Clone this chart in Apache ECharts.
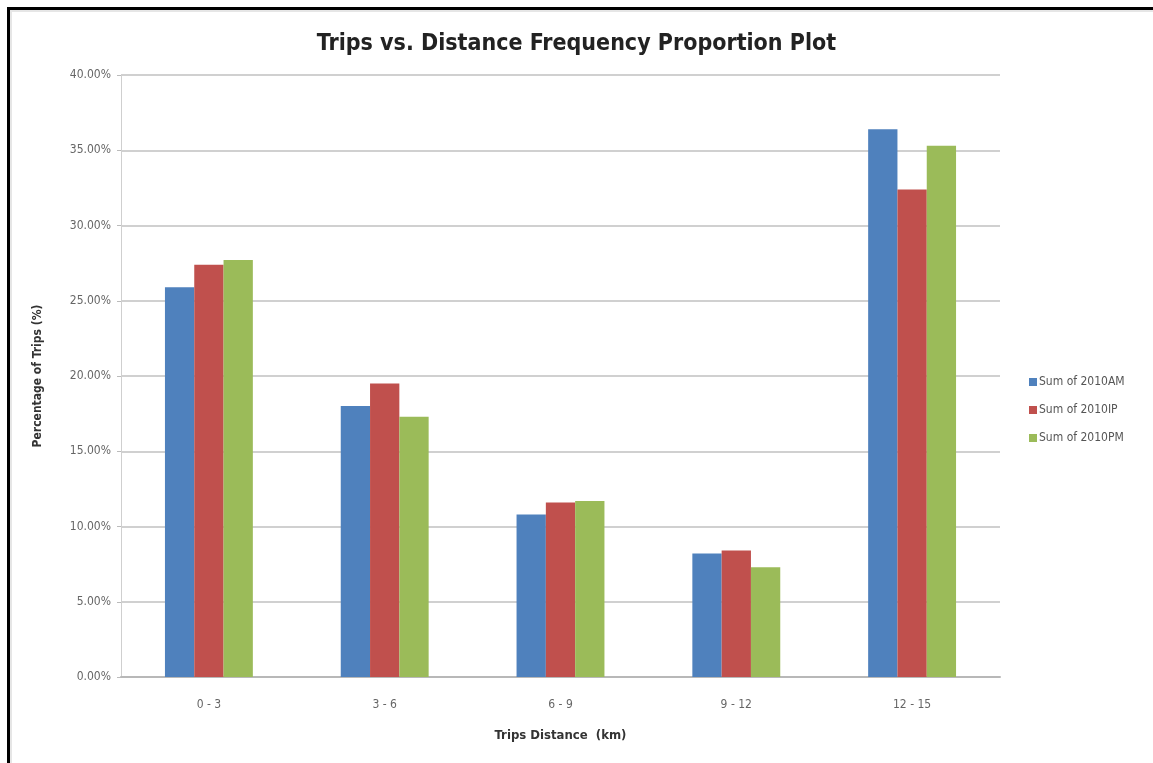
<!DOCTYPE html>
<html>
<head>
<meta charset="utf-8">
<title>Trips vs. Distance Frequency Proportion Plot</title>
<script src="https://cdn.jsdelivr.net/npm/echarts@6/dist/echarts.min.js"></script>
<style>
  html, body { margin: 0; padding: 0; background: #fff; }
  #frame {
    position: absolute; left: 7px; top: 7px; width: 1160px; height: 753px;
    border-top: 3px solid #000; border-left: 3px solid #000;
    box-shadow: inset 2px 2px 0 #e6e6e6;
  }
  #tripsChart { position: absolute; left: 0; top: 0; width: 1153px; height: 763px; }
</style>
</head>
<body>
<div id="frame"></div>
<div id="tripsChart"></div>

<script type="text/javascript">

var distanceBands = ['0 - 3', '3 - 6', '6 - 9', '9 - 12', '12 - 15'];

// percentage of trips per distance band
var sum2010AM = [25.9, 18.0, 10.8, 8.2, 36.4];
var sum2010IP = [27.4, 19.5, 11.6, 8.4, 32.4];
var sum2010PM = [27.7, 17.3, 11.7, 7.3, 35.3];

var yTicks = [0, 5, 10, 15, 20, 25, 30, 35, 40];

var labelFont = '"Liberation Sans Narrow", "DejaVu Sans Condensed", "Liberation Sans", sans-serif';

var tripsReport = echarts.init(document.getElementById('tripsChart'));

function barSeries(name, data, color) {
    return {
        name: name,
        type: 'bar',
        data: data,
        barGap: '0%',
        barCategoryGap: '50%',
        itemStyle: { color: color },
        emphasis: { disabled: true }
    };
}

var tripsOption = {
    backgroundColor: 'transparent',
    animation: false,
    title: {
        text: 'Trips vs. Distance Frequency Proportion Plot',
        left: 'center',
        top: 28,
        textStyle: {
            fontFamily: labelFont,
            fontSize: 23,
            fontWeight: 'bold',
            color: '#222'
        }
    },
    legend: {
        orient: 'vertical',
        left: 1024,
        top: 371,
        itemWidth: 8,
        itemHeight: 8,
        itemGap: 16,
        icon: 'rect',
        textStyle: { fontFamily: labelFont, fontSize: 12, color: '#555', padding: [0, 0, 0, -3] },
        data: ['Sum of 2010AM', 'Sum of 2010IP', 'Sum of 2010PM']
    },
    grid: {
        left: 121,
        right: 153,
        top: 75,
        bottom: 86
    },
    xAxis: {
        type: 'category',
        data: distanceBands,
        name: 'Trips Distance  (km)',
        nameLocation: 'middle',
        nameGap: 52,
        nameTextStyle: { fontFamily: labelFont, fontSize: 13, fontWeight: 'bold', color: '#333' },
        axisLine: { lineStyle: { color: '#b8b8b8', width: 2 } },
        axisTick: { show: false },
        axisLabel: { fontFamily: labelFont, fontSize: 12, color: '#666', margin: 22 }
    },
    yAxis: {
        type: 'value',
        min: yTicks[0],
        max: yTicks[yTicks.length - 1],
        interval: 5,
        name: 'Percentage of Trips (%)',
        nameLocation: 'middle',
        nameGap: 77,
        nameTextStyle: { fontFamily: labelFont, fontSize: 12, fontWeight: 'bold', color: '#333' },
        axisLine: { show: true, lineStyle: { color: '#cfcfcf', width: 1 } },
        axisTick: { show: true, length: 4, lineStyle: { color: '#bbb' } },
        splitLine: { lineStyle: { color: '#d0d0d0', width: 2 } },
        axisLabel: {
            fontFamily: labelFont,
            fontSize: 12,
            color: '#666',
            margin: 10,
            formatter: function (v) { return v.toFixed(2) + '%'; }
        }
    },
    series: [
        barSeries('Sum of 2010AM', sum2010AM, '#4F81BD'),
        barSeries('Sum of 2010IP', sum2010IP, '#C0504D'),
        barSeries('Sum of 2010PM', sum2010PM, '#9BBB59')
    ]
};

tripsReport.setOption(tripsOption);

</script>
</body>
</html>
